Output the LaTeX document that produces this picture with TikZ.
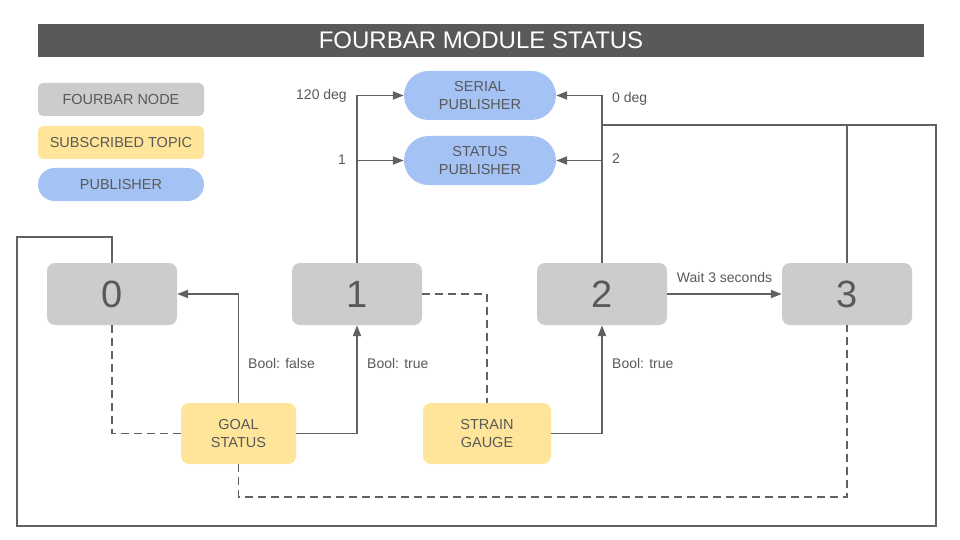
\documentclass[tikz,border=0pt]{standalone}
\usepackage{fontspec}
\setmainfont{Liberation Sans}
\usetikzlibrary{arrows.meta}
\definecolor{txtgray}{HTML}{595959}
\definecolor{linegray}{HTML}{616161}
\definecolor{nodegray}{HTML}{CCCCCC}
\definecolor{topicyellow}{HTML}{FFE599}
\definecolor{pubblue}{HTML}{A4C2F4}
\definecolor{titlegray}{HTML}{595959}
\tikzset{
  statebox/.style={fill=nodegray, rounded corners=8pt, minimum width=130pt, minimum height=62pt, inner sep=0pt, text=txtgray, font=\fontsize{38}{40}\selectfont},
  topicbox/.style={fill=topicyellow, rounded corners=8pt, minimum height=61pt, inner sep=0pt, text=txtgray, align=center, font=\fontsize{14.5}{18}\selectfont},
  pubbox/.style={fill=pubblue, rounded corners=24.5pt, minimum width=152pt, minimum height=49pt, inner sep=0pt, text=txtgray, align=center, font=\fontsize{14.5}{17.5}\selectfont},
  legbox/.style={rounded corners=5pt, minimum width=166pt, minimum height=33pt, inner sep=0pt, text=txtgray, font=\fontsize{14.5}{17}\selectfont},
  conn/.style={draw=linegray, line width=1.9pt},
  arr/.style={conn, -{Triangle[length=11pt,width=8pt]}},
  dashline/.style={conn, dash pattern=on 8pt off 5pt},
  lbl/.style={text=txtgray, font=\fontsize{14}{17}\selectfont, inner sep=0pt},
}
\begin{document}
\begin{tikzpicture}[x=1pt,y=-1pt]
\useasboundingbox (0,0) rectangle (960,540);
\fill[white] (0,0) rectangle (960,540);
% title
\node[fill=titlegray, minimum width=886pt, minimum height=33pt, inner sep=0pt, text=white, font=\fontsize{24}{26}\selectfont] (title) at (481,40.5) {FOURBAR MODULE STATUS};
% legend
\node[legbox, fill=nodegray] (lnode) at (121,99.5) {FOURBAR NODE};
\node[legbox, fill=topicyellow] (ltopic) at (121,142.5) {SUBSCRIBED TOPIC};
\node[legbox, fill=pubblue, rounded corners=16.5pt] (lpub) at (121,184.5) {PUBLISHER};
% publishers
\node[pubbox] (serial) at (480,95.5) {SERIAL\\PUBLISHER};
\node[pubbox] (status) at (480,160.5) {STATUS\\PUBLISHER};
% states
\node[statebox] (n0) at (112,294) {0};
\node[statebox] (n1) at (357,294) {1};
\node[statebox] (n2) at (602,294) {2};
\node[statebox] (n3) at (847,294) {3};
% topics
\node[topicbox, minimum width=115pt] (goal) at (238.5,433.5) {GOAL\\STATUS};
\node[topicbox, minimum width=128pt] (strain) at (487,433.5) {STRAIN\\GAUGE};
% coordinates
\coordinate (r1) at (602,125);
\coordinate (r2) at (936,125);
\coordinate (r3) at (936,526);
\coordinate (l1) at (17,526);
\coordinate (l2) at (17,237);
\coordinate (l3) at (112,237);
\coordinate (d1) at (238.5,497);
\coordinate (j1) at (n1.north |- status.west);
\coordinate (j2) at (n2.north |- status.east);
\coordinate (j3) at (n3.north |- r1);
% connectors
\draw[arr] (n1.north) |- (serial.west);
\draw[arr] (j1) -- (status.west);
\draw[arr] (n2.north) |- (serial.east);
\draw[arr] (j2) -- (status.east);
\draw[conn] (r1) -- (r2) -- (r3) -- (l1) -- (l2) -- (l3) -- (n0.north);
\draw[conn] (n3.north) -- (j3);
\draw[arr] (goal.north) |- (n0.east);
\draw[arr] (goal.east) -| (n1.south);
\draw[dashline] (n0.south) |- (goal.west);
\draw[dashline] (goal.south) -- (d1) -| (n3.south);
\draw[dashline] (n1.east) -| (strain.north);
\draw[arr] (strain.east) -| (n2.south);
\draw[arr] (n2.east) -- (n3.west);
% labels
\node[lbl, anchor=east] (t120) at (347,96) {120 deg};
\node[lbl, anchor=east] (tone) at (346,159.5) {1};
\node[lbl, anchor=west] (tzero) at (612,99) {0 deg};
\node[lbl, anchor=west] (ttwo) at (612,159) {2};
\node[lbl, anchor=west] (tbf) at (248,363.5) {Bool: false};
\node[lbl, anchor=west] (tbt1) at (367,363.5) {Bool: true};
\node[lbl, anchor=west] (tbt2) at (612,363.5) {Bool: true};
\node[lbl] (twait) at (724.5,277.5) {Wait 3 seconds};
\end{tikzpicture}
\end{document}
